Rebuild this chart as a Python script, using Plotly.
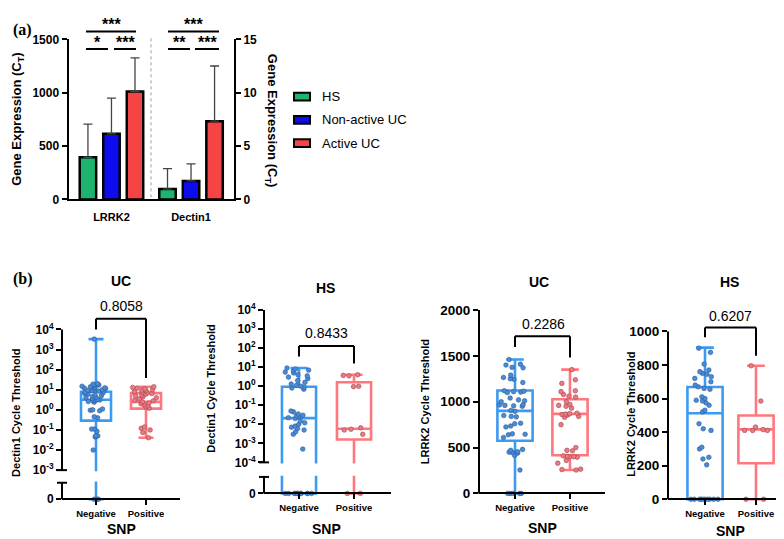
import math
import plotly.graph_objects as go

W, H = 784, 539
SANS = "Liberation Sans, Arial, sans-serif"
SERIF = "Liberation Serif, Times New Roman, serif"

# ---- (a) gene expression, mean + SD
genes = ["LRRK2", "Dectin1"]
groups = ["HS", "Non-active UC", "Active UC"]
lrrk2_mean = [395, 615, 1010]
lrrk2_sd = [311, 334, 317]
dectin1_mean = [0.97, 1.73, 7.33]
dectin1_sd = [1.91, 1.60, 5.17]

# ---- (b) cycle thresholds by SNP status
snp = ["Negative", "Positive"]

uc_dectin1_neg = [3300, 20, 19, 18, 17, 16, 15, 14, 13, 12.5, 12, 11.5, 11, 10, 9.5, 9, 8.5, 8,
                  7.5, 7, 6.5, 6, 5.5, 5, 4.5, 4.2, 4, 3.6, 3.3, 3.1, 3, 2.8, 2.6, 2.4,
                  1.1, 1.0, 0.95, 0.9, 0.45, 0.4, 0.11, 0.11, 0.085, 0.052, 0.05, 0.045,
                  0.01, 0, 0, 0]
uc_dectin1_pos = [14, 13, 12, 11, 10, 9.5, 9, 8, 7.5, 7, 6.5, 6, 5.5, 5, 4.5, 4, 3.5, 3, 2.8,
                  2.5, 2.2, 2, 1.8, 1.6, 1.4, 1.2, 0.14, 0.12, 0.1, 0.075, 0.041]
# min, q1, median, q3, max
uc_dectin1_neg_box = [0, 0.29, 3.2, 7.9, 3300]
uc_dectin1_pos_box = [0.041, 1.15, 2.5, 6.8, 14]

hs_dectin1_neg = [9, 8, 7, 6.5, 5.5, 5, 4, 3.5, 3, 2.5, 2, 1.6, 1.3, 1.1, 1.0, 0.9, 0.8, 0.7,
                  0.05, 0.045, 0.035, 0.03, 0.028, 0.025, 0.022, 0.02, 0.015, 0.012, 0.01,
                  0.008, 0.007, 0.006, 0.005, 0.004, 0.003, 0.0005,
                  0, 0, 0, 0, 0, 0, 0, 0, 0, 0, 0, 0]
hs_dectin1_pos = [4.0, 3.7, 3.5, 1.0, 0.95, 0.0065, 0.0055, 0.005, 0.003, 0, 0]
hs_dectin1_neg_box = [0, 0, 0.021, 0.93, 9]
hs_dectin1_pos_box = [0, 0.0016, 0.0058, 1.6, 4.0]

uc_lrrk2_neg = [1460, 1410, 1400, 1375, 1370, 1290, 1265, 1250, 1245, 1210,
                1120, 1115, 1110, 1105, 1100, 1040, 1020, 1010, 1000, 970, 965, 960, 955, 950,
                905, 895, 850, 840, 835, 765, 760, 735, 725, 650, 645, 640, 610,
                480, 470, 455, 450, 445, 440, 415, 255, 0, 0, 0, 0, 0]
uc_lrrk2_pos = [1350, 1240, 1200, 1120, 1110, 1080, 1060, 1050, 1000, 970, 960, 950, 930,
                875, 870, 865, 860, 855, 840, 830, 750, 500, 470, 465, 410, 405, 400, 400,
                395, 360, 330, 265, 260, 255]
uc_lrrk2_neg_box = [0, 575, 900, 1123, 1460]
uc_lrrk2_pos_box = [255, 416, 868, 1027, 1350]

hs_lrrk2_neg = [900, 875, 805, 770, 760, 750, 745, 730, 720, 700, 680, 670, 660, 655, 610, 600,
                590, 585, 575, 560, 530, 520, 450, 420, 410, 310, 300, 250, 240, 205,
                0, 0, 0, 0, 0, 0, 0, 0, 0, 0]
hs_lrrk2_pos = [795, 585, 430, 415, 410, 410, 410, 0, 0]
hs_lrrk2_neg_box = [0, 0, 512, 669, 903]
hs_lrrk2_pos_box = [0, 214, 416, 499, 795]

BAR_COLORS = ["#1DB46F", "#0C0CEE", "#F44444"]
NEG = dict(line="#3C9AF0", fill="#4A8BD6", edge="#2A5A9A")
POS = dict(line="#FF777C", fill="#EC7A82", edge="#A3424C")


def fx(x):
    return x / W


def fy(y):
    return 1 - y / H


fig = go.Figure()
shapes = []
notes = []


def seg(x0, y0, x1, y1, width=2, color="black", dash=None):
    shapes.append(dict(type="line", xref="paper", yref="paper",
                       x0=fx(x0), y0=fy(y0), x1=fx(x1), y1=fy(y1),
                       line=dict(color=color, width=width, dash=dash)))


def note(x, y, text, size, bold=False, angle=0, family=SANS, xanchor="center"):
    notes.append(dict(xref="paper", yref="paper", x=fx(x), y=fy(y), text=text,
                      showarrow=False, textangle=angle, xanchor=xanchor, yanchor="middle",
                      font=dict(family=family, size=size, color="black",
                                weight="bold" if bold else "normal")))


# ================= panel (a) =================
for i, g in enumerate(groups):
    for gene, mean, sd, yax in [(genes[0], lrrk2_mean, lrrk2_sd, "y"),
                                (genes[1], dectin1_mean, dectin1_sd, "y2")]:
        fig.add_trace(go.Bar(
            x=[gene], y=[mean[i]], name=g, xaxis="x", yaxis=yax,
            offsetgroup=str(i), alignmentgroup="a",
            marker=dict(color=BAR_COLORS[i], line=dict(color="black", width=2.5)),
            error_y=dict(type="data", symmetric=False, array=[sd[i]], arrayminus=[0],
                         color="#444444", thickness=1.3, width=4.5),
            showlegend=False, hoverinfo="skip"))

axis_a = dict(showgrid=False, zeroline=False, ticks="outside", ticklen=5, tickwidth=2,
              tickcolor="black", showline=True, linewidth=2, linecolor="black",
              tickfont=dict(size=12, weight="bold"))
fig.update_layout(
    xaxis=dict(domain=[fx(60.5), fx(226)], type="category", categoryorder="array",
               categoryarray=genes, range=[-0.54, 1.54], showline=True, linewidth=2,
               linecolor="black", ticks="", showgrid=False, zeroline=False,
               ticklabelstandoff=6, tickfont=dict(size=11, weight="bold")),
    yaxis=dict(domain=[fy(188), fy(23)], range=[0, 1500], tickvals=[0, 500, 1000, 1500],
               anchor="x", **axis_a),
    yaxis2=dict(domain=[fy(188), fy(23)], range=[0, 15], tickvals=[0, 5, 10, 15],
                overlaying="y", side="right", anchor="x", **axis_a),
    barmode="group", bargap=0.113, bargroupgap=0.3,
)

# divider between genes
seg(143, 22, 143, 187, width=1, color="#9a9a9a", dash="dot")

# significance brackets
for x0, x1, y, txt in [(78, 128, 15, "***"), (78, 100, 33, "*"), (106, 128, 33, "***"),
                       (160, 211, 15, "***"), (160, 182, 33, "**"), (187, 211, 33, "***")]:
    seg(x0, y, x1, y, width=2)
    note((x0 + x1) / 2, y - 7, txt, 16, bold=True)

note(10, 106, "Gene Expression (C<sub>T</sub>)", 13, bold=True, angle=-90)
note(263, 106, "Gene Expression (C<sub>T</sub>)", 13, bold=True, angle=90)

# legend
for i, (g, yc) in enumerate(zip(groups, [82, 106, 130])):
    shapes.append(dict(type="rect", xref="paper", yref="paper",
                       x0=fx(286), x1=fx(302), y0=fy(yc + 4), y1=fy(yc - 4),
                       fillcolor=BAR_COLORS[i], line=dict(color="black", width=2)))
    note(312, yc, g, 13, xanchor="left")

note(14, 13, "(a)", 16, bold=True, family=SERIF)
note(15, 270, "(b)", 16, bold=True, family=SERIF)

# ================= panel (b) =================
panels = [
    dict(n=3, log=True, neg=uc_dectin1_neg, pos=uc_dectin1_pos,
         neg_box=uc_dectin1_neg_box, pos_box=uc_dectin1_pos_box,
         title="UC", pval="0.8058", ytitle="Dectin1 Cycle Threshold",
         left=54, right=172, xneg=88, xpos=138, top_px=322, low_px=467, seg_px=480,
         zero_px=497, top_val=4, low_val=-3, bw=0.6, tsize=12,
         title_xy=(113, 272), p_xy=(113, 298), br=(311, 322, 372), yt_x=8, yt_y=408,
         snp_xy=(113, 528)),
    dict(n=4, log=True, neg=hs_dectin1_neg, pos=hs_dectin1_pos,
         neg_box=hs_dectin1_neg_box, pos_box=hs_dectin1_pos_box,
         title="HS", pval="0.8433", ytitle="Dectin1 Cycle Threshold",
         left=256, right=383, xneg=291, xpos=346, top_px=302, low_px=459, seg_px=474,
         zero_px=491, top_val=4, low_val=-4, bw=0.62, tsize=12,
         title_xy=(317, 279), p_xy=(318, 326), br=(339, 350, 357), yt_x=203, yt_y=383,
         snp_xy=(318, 528)),
    dict(n=5, log=False, neg=uc_lrrk2_neg, pos=uc_lrrk2_pos,
         neg_box=uc_lrrk2_neg_box, pos_box=uc_lrrk2_pos_box,
         title="UC", pval="0.2286", ytitle="LRRK2 Cycle Threshold",
         left=471, right=597, xneg=507, xpos=562, top_px=302, zero_px=491,
         top_val=2000, ticks=[0, 500, 1000, 1500, 2000], bw=0.64, tsize=13.5,
         title_xy=(531, 273), p_xy=(535, 316), br=(329, 340, 351), yt_x=417, yt_y=397,
         snp_xy=(534, 527)),
    dict(n=6, log=False, neg=hs_lrrk2_neg, pos=hs_lrrk2_pos,
         neg_box=hs_lrrk2_neg_box, pos_box=hs_lrrk2_pos_box,
         title="HS", pval="0.6207", ytitle="LRRK2 Cycle Threshold",
         left=660, right=782, xneg=697, xpos=748, top_px=324, zero_px=497,
         top_val=1000, ticks=[0, 200, 400, 600, 800, 1000], bw=0.69, tsize=13.5,
         title_xy=(721, 273), p_xy=(722, 308), br=(320, 330, 349), yt_x=623, yt_y=410,
         snp_xy=(722, 530)),
]

PAD = 6
for p in panels:
    n = p["n"]
    if p["log"]:
        ppu = (p["low_px"] - p["top_px"]) / (p["top_val"] - p["low_val"])
        zero_val = p["low_val"] - (p["zero_px"] - p["low_px"]) / ppu

        def tf(v, z=zero_val):
            return math.log10(v) if v > 0 else z

        tickvals = [zero_val] + list(range(p["low_val"], p["top_val"] + 1))
        ticktext = ["0"] + ["10<sup>%d</sup>" % k for k in range(p["low_val"], p["top_val"] + 1)]
    else:
        ppu = (p["zero_px"] - p["top_px"]) / p["top_val"]
        zero_val = 0

        def tf(v):
            return v

        tickvals = p["ticks"]
        ticktext = [str(t) for t in p["ticks"]]

    unit = p["xpos"] - p["xneg"]
    xr = [-(p["xneg"] - p["left"]) / unit, 1 + (p["right"] - p["xpos"]) / unit]
    fig.update_layout(**{
        f"xaxis{n}": dict(domain=[fx(p["left"]), fx(p["right"])], range=xr, type="category",
                          categoryorder="array", categoryarray=snp, anchor="free",
                          position=fy(p["zero_px"]), showline=True, linewidth=2,
                          linecolor="black", ticks="outside", ticklen=5, tickwidth=2,
                          tickcolor="black", showgrid=False, zeroline=False,
                          tickfont=dict(size=9.5, weight="bold")),
        f"yaxis{n}": dict(domain=[fy(p["zero_px"] + PAD), fy(p["top_px"])],
                          range=[zero_val - PAD / ppu, p["top_val"]], anchor=f"x{n}",
                          tickvals=tickvals, ticktext=ticktext, showline=False,
                          ticks="outside", ticklen=5, tickwidth=2, tickcolor="black",
                          showgrid=False, zeroline=False,
                          tickfont=dict(size=p["tsize"], weight="bold")),
    })

    for cat, vals, box, col in [(snp[0], p["neg"], p["neg_box"], NEG),
                                (snp[1], p["pos"], p["pos_box"], POS)]:
        fig.add_trace(go.Box(
            x=[cat], lowerfence=[tf(box[0])], q1=[tf(box[1])], median=[tf(box[2])],
            q3=[tf(box[3])], upperfence=[tf(box[4])], xaxis=f"x{n}", yaxis=f"y{n}",
            width=p["bw"], whiskerwidth=0.5, boxpoints=False,
            line=dict(color=col["line"], width=2.6), fillcolor="rgba(0,0,0,0)",
            showlegend=False, hoverinfo="skip"))
        fig.add_trace(go.Box(
            x=[cat] * len(vals), y=[tf(v) for v in vals], xaxis=f"x{n}", yaxis=f"y{n}",
            width=p["bw"], boxpoints="all", jitter=0.95, pointpos=0,
            line=dict(color="rgba(0,0,0,0)", width=0), fillcolor="rgba(0,0,0,0)",
            marker=dict(size=4.6, color=col["fill"], line=dict(color=col["edge"], width=0.6)),
            showlegend=False, hoverinfo="skip"))

    L = p["left"]
    if p["log"]:
        # broken axis: hide the gap, then draw both segments with caps
        shapes.append(dict(type="rect", xref="paper", yref="paper",
                           x0=fx(L + 1.5), x1=fx(p["right"]), y0=fy(p["seg_px"] - 1.2),
                           y1=fy(p["low_px"] + 1.2), fillcolor="white", line=dict(width=0),
                           layer="above"))
        seg(L, p["top_px"], L, p["low_px"])
        seg(L, p["seg_px"], L, p["zero_px"])
        seg(L - 5, p["low_px"], L + 5, p["low_px"])
        seg(L - 5, p["seg_px"], L + 5, p["seg_px"])
    else:
        seg(L, p["top_px"], L, p["zero_px"])

    # significance bracket
    top, lb, rb = p["br"]
    seg(p["xneg"], lb, p["xneg"], top)
    seg(p["xneg"], top, p["xpos"], top)
    seg(p["xpos"], top, p["xpos"], rb)

    note(*p["title_xy"], p["title"], 14, bold=True)
    note(*p["p_xy"], p["pval"], 14)
    note(p["yt_x"], p["yt_y"], p["ytitle"], 11, bold=True, angle=-90)
    note(*p["snp_xy"], "SNP", 14, bold=True)

fig.update_layout(
    width=W, height=539, margin=dict(l=0, r=0, t=0, b=0),
    paper_bgcolor="white", plot_bgcolor="white",
    font=dict(family=SANS, color="black"),
    showlegend=False, boxmode="overlay",
    shapes=shapes, annotations=notes,
)

fig.write_html("out.html")
